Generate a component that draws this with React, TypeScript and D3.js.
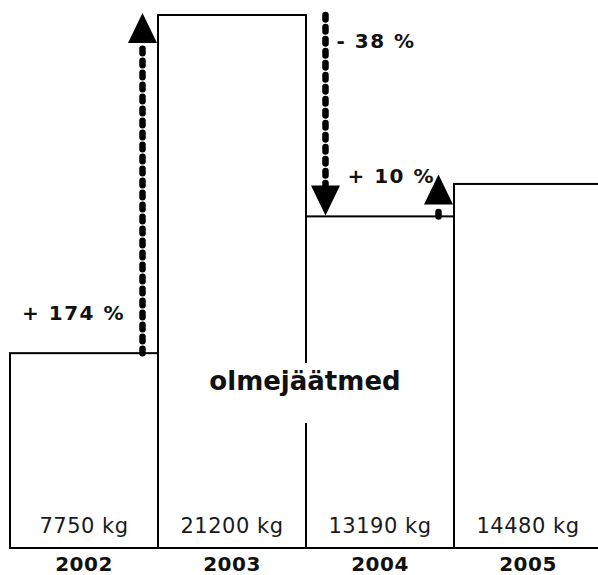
import * as d3 from 'd3'

const years = ['2002', '2003', '2004', '2005']
const amounts = [7750, 21200, 13190, 14480]
const changeLabels = ['+ 174 %', '- 38 %', '+ 10 %']
const centerLabel = 'olmejäätmed'
const unit = 'kg'

const W = 598
const H = 575
const base = 548
const headLen = 30
const headW = 29
// horizontal nudge for each change label, relative to its arrow
const labelDx = [-17.5, 11, -3.5]

export default function App() {
  const x = d3.scaleBand<string>().domain(years).range([10, 602]).paddingInner(0)
  const y = d3.scaleLinear().domain([0, d3.max(amounts) ?? 1]).range([base, 15])
  const bw = x.bandwidth()
  const font = '"DejaVu Sans", Verdana, sans-serif'

  const arrows = changeLabels.map((label, i) => {
    const y0 = y(amounts[i])
    const y1 = y(amounts[i + 1])
    const up = amounts[i + 1] > amounts[i]
    if (up) {
      const ax = (x(years[i]) ?? 0) + bw - 15.5
      const tip = Math.min(y1 - 2, y0 - headLen - 12)
      return { label, up, ax, y0, tip, hb: tip + headLen, ly: y0 - 33, lx: ax + labelDx[i] }
    }
    const ax = (x(years[i + 1]) ?? 0) + 19.5
    const tip = y1 - 1
    return { label, up, ax, y0, tip, hb: tip - headLen, ly: y0 + 33, lx: ax + labelDx[i] }
  })

  const midX = (x(years[2]) ?? 0) - 1

  return (
    <svg width={W} height={H} style={{ position: 'absolute', left: 0, top: 0, background: '#fff' }}>
      {/* bars */}
      {years.map((yr, i) => (
        <rect key={yr} x={x(yr)} y={y(amounts[i])} width={bw} height={base - y(amounts[i])}
          fill="#fff" stroke="#000" strokeWidth={2} />
      ))}
      <line x1={10} x2={W} y1={base} y2={base} stroke="#000" strokeWidth={2} />

      {/* value + year labels */}
      {years.map((yr, i) => (
        <g key={'l' + yr} fontFamily={font} textAnchor="middle">
          <text x={(x(yr) ?? 0) + bw / 2} y={base - 15} fontSize={21} letterSpacing={0.5} fill="#1a1a1a">
            {`${amounts[i]} ${unit}`}
          </text>
          <text x={(x(yr) ?? 0) + bw / 2} y={base + 23} fontSize={20} fontWeight="bold" letterSpacing={0.5} fill="#111">
            {yr}
          </text>
        </g>
      ))}

      {/* centre label */}
      <rect x={midX - 100} y={363} width={200} height={60} fill="#fff" />
      <text x={midX} y={390} textAnchor="middle" fontFamily={font} fontSize={26} fontWeight="bold" fill="#111">
        {centerLabel}
      </text>

      {/* change arrows */}
      {arrows.map((a, i) => (
        <g key={'a' + i}>
          <line x1={a.ax} x2={a.ax} y1={a.y0} y2={a.hb} stroke="#000" strokeWidth={6.5}
            strokeDasharray="4.5 7.5" strokeLinecap="round" />
          <polygon
            points={`${a.ax},${a.tip} ${a.ax - headW / 2},${a.hb} ${a.ax + headW / 2},${a.hb}`}
            fill="#000" />
          <text x={a.lx} y={a.ly} textAnchor={a.up ? 'end' : 'start'} fontFamily={font}
            fontSize={20} fontWeight="bold" letterSpacing={1.5} fill="#111">
            {a.label}
          </text>
        </g>
      ))}
    </svg>
  )
}
